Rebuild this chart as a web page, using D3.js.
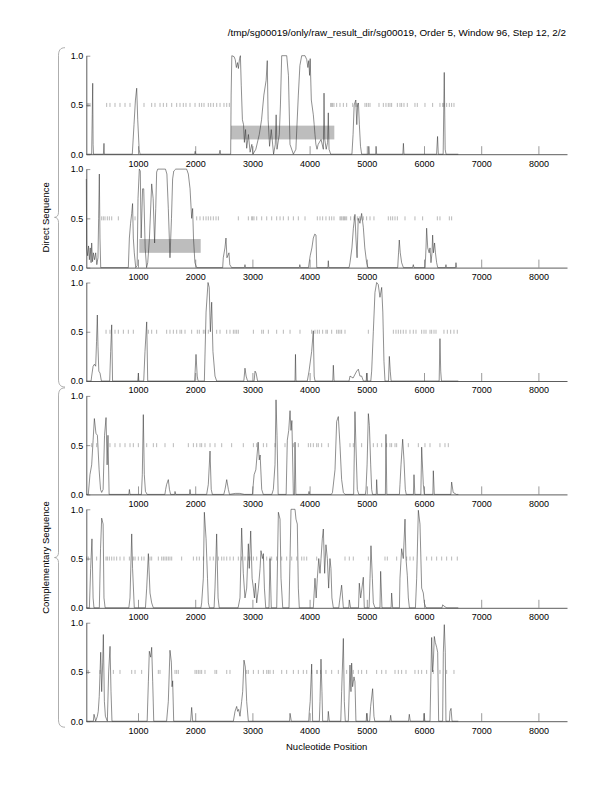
<!DOCTYPE html>
<html>
<head>
<meta charset="utf-8">
<script src="https://cdn.jsdelivr.net/npm/d3@7"></script>
<style>
  body { margin: 0; background: #fff; }
  text { font-family: "Liberation Sans", Arial, Helvetica, sans-serif; fill: #000; }
</style>
</head>
<body>
<div class="chart"></div>
<script>
var svgWidth = 612;
var svgHeight = 792;

// x range of every panel
var xStart = 96;
var xEnd = 8500;
var xTicks = [1000, 2000, 3000, 4000, 5000, 6000, 7000, 8000];
var yTicks = [0, 0.5, 1.0];

var titleText = "/tmp/sg00019/only/raw_result_dir/sg00019, Order 5, Window 96, Step 12, 2/2";
var groupLabels = ["Direct Sequence", "Complementary Sequence"];
var xLabel = "Nucleotide Position";

// traces, [position, value]
var trace1 = [[96,0],[190,0],[200,0.4],[208,0.72],[215,0.1],[222,0],[395,0],[405,0.11],[412,0],[900,0],[930,0.3],[955,0.55],[977,0.67],[995,0.35],[1020,0.05],[1035,0],[1990,0],[2000,0.03],[2010,0],[2420,0],[2434,0.04],[2445,0],[2620,0],[2628,0.6],[2640,1.0],[2680,0.99],[2700,0.96],[2720,0.88],[2740,0.93],[2755,0.87],[2775,0.97],[2790,1.0],[2805,0.7],[2825,0.35],[2845,0.3],[2860,0.12],[2880,0.25],[2900,0.06],[2930,0.2],[2960,0.02],[2990,0.1],[3010,0.0],[3060,0.05],[3120,0.2],[3160,0.35],[3200,0.6],[3240,0.75],[3260,0.95],[3275,0.35],[3300,0.08],[3330,0.25],[3370,0],[3400,0.1],[3415,0.4],[3430,0.05],[3470,0.2],[3490,0.5],[3512,1.0],[3600,1.0],[3630,0.8],[3657,0.1],[3716,0],[3760,0.05],[3803,0.6],[3830,0.9],[3862,1.0],[3920,1.0],[3950,0.96],[3970,0.88],[3985,0.95],[4000,0.8],[4010,0.97],[4030,0.55],[4065,0.4],[4080,0.3],[4094,0.2],[4110,0.1],[4130,0.05],[4150,0.1],[4200,0.15],[4240,0.05],[4252,0.62],[4265,0.15],[4290,0.05],[4315,0.12],[4327,0.42],[4340,0.05],[4369,0],[4740,0],[4760,0.2],[4779,0.5],[4808,0.55],[4825,0.3],[4840,0.5],[4854,0.52],[4870,0.3],[4890,0.08],[4910,0],[5030,0],[5035,0.08],[5045,0],[5155,0],[5162,0.08],[5172,0],[5630,0],[5640,0.11],[5650,0],[6220,0],[6237,0.18],[6250,0],[6335,0],[6354,0.83],[6370,0.05],[6385,0],[6600,0]];
var trace2 = [[96,0.9],[103,0.2],[120,0.12],[135,0.22],[150,0.08],[165,0.2],[180,0.05],[190,0.25],[205,0.06],[220,0.15],[240,0.08],[260,0.15],[280,0.03],[300,0.1],[312,0.5],[324,0.95],[335,0.3],[348,0],[831,0],[849,0.3],[870,0.45],[890,0.55],[905,0.65],[918,0.3],[935,0.15],[960,0.0],[985,0.02],[1000,0.7],[1023,1.0],[1040,0.98],[1055,0.3],[1080,0.8],[1100,0.8],[1125,0.2],[1150,0.0],[1170,0.05],[1200,0.3],[1239,0.85],[1265,0.7],[1290,0.25],[1310,0.6],[1326,0.97],[1345,1.0],[1480,1.0],[1505,0.95],[1530,0.6],[1559,0.1],[1585,0.5],[1605,0.9],[1625,0.98],[1660,1.0],[1850,1.0],[1880,0.95],[1910,0.8],[1938,0.5],[1955,0.6],[1970,0.3],[1995,0.05],[2026,0],[2480,0],[2491,0.1],[2520,0.2],[2538,0.3],[2555,0.1],[2590,0.15],[2605,0.03],[2637,0],[2860,0],[2870,0.03],[2880,0],[3820,0],[3829,0.03],[3840,0],[3980,0],[4010,0.12],[4040,0.2],[4065,0.3],[4090,0.34],[4112,0.33],[4125,0.0],[4320,0],[4327,0.07],[4335,0],[4690,0],[4706,0.05],[4740,0.2],[4765,0.4],[4793,0.54],[4810,0.3],[4830,0.1],[4850,0.5],[4880,0.45],[4910,0.55],[4939,0.41],[4965,0.2],[4997,0.05],[5020,0],[5540,0],[5555,0.15],[5568,0.28],[5585,0.15],[5609,0.05],[5640,0],[5800,0],[5813,0.03],[5825,0],[6020,0],[6035,0.2],[6046,0.4],[6065,0.2],[6090,0.15],[6105,0.2],[6122,0.05],[6140,0.15],[6151,0.33],[6165,0.15],[6185,0.25],[6200,0.15],[6221,0.05],[6240,0],[6375,0],[6384,0.03],[6392,0],[6550,0],[6559,0.05],[6570,0]];
var trace3 = [[96,0],[180,0],[190,0.05],[215,0.15],[237,0.17],[260,0.15],[275,0.4],[289,0.67],[300,0.35],[315,0.1],[336,0.08],[360,0],[505,0],[522,0.3],[540,0.57],[555,0],[995,0],[1006,0.08],[1015,0],[1100,0],[1122,0.3],[1152,0.6],[1170,0.0],[1990,0],[2014,0.27],[2035,0.05],[2050,0],[2160,0],[2190,0.7],[2224,1.0],[2245,0.95],[2265,0.5],[2288,0.8],[2310,0.3],[2346,0.05],[2375,0],[2850,0],[2870,0.13],[2890,0.05],[2915,0],[3030,0],[3046,0.1],[3065,0.08],[3090,0],[3745,0],[3753,0.27],[3762,0],[3960,0],[3990,0.1],[4036,0.3],[4065,0.51],[4080,0.05],[4095,0],[4405,0],[4415,0.16],[4428,0],[4690,0],[4706,0.05],[4760,0.03],[4823,0.1],[4852,0.12],[4880,0.05],[4910,0.05],[4940,0],[4990,0],[4997,0.08],[5005,0],[5070,0],[5085,0.1],[5114,0.5],[5143,0.9],[5172,1.0],[5200,0.98],[5230,0.85],[5260,0.95],[5280,0.7],[5300,0.2],[5318,0],[5380,0],[5394,0.25],[5410,0.1],[5425,0],[6265,0],[6279,0.43],[6292,0.1],[6305,0],[6600,0]];
var trace4 = [[96,0],[131,0],[160,0.2],[190,0.3],[215,0.55],[237,0.77],[265,0.62],[290,0.6],[320,0.25],[345,0.05],[365,0.02],[390,0.05],[415,0.6],[441,0.78],[460,0.3],[475,0.6],[495,0],[840,0],[849,0.05],[860,0],[1060,0],[1075,0.2],[1093,0.81],[1110,0.2],[1130,0.03],[1160,0],[1470,0],[1483,0.05],[1500,0.1],[1530,0.15],[1550,0.05],[1570,0],[1640,0],[1647,0.03],[1660,0],[1900,0],[1909,0.05],[1920,0],[2200,0],[2229,0.1],[2259,0.44],[2280,0.05],[2300,0],[2500,0],[2521,0.05],[2551,0.15],[2580,0.05],[2600,0],[2700,0.01],[2780,0.01],[2860,0],[3000,0],[3030,0.2],[3060,0.25],[3100,0.53],[3120,0.35],[3135,0.4],[3163,0.05],[3190,0],[3340,0],[3366,0.05],[3395,0.3],[3413,0.96],[3430,0.6],[3450,0],[3590,0],[3610,0.55],[3635,0.65],[3658,0.85],[3675,0.65],[3690,0.75],[3716,0],[3735,0.0],[3745,0.53],[3760,0],[3980,0],[3990,0.03],[4000,0],[4380,0],[4400,0.02],[4444,0.25],[4473,0.74],[4502,0.79],[4531,0.5],[4560,0.15],[4590,0.02],[4620,0],[4770,0],[4793,0.84],[4810,0.5],[4834,0.05],[4860,0],[4975,0],[4986,0.05],[5005,0.3],[5027,0.82],[5045,0.7],[5068,0.3],[5085,0.05],[5100,0],[5165,0],[5172,0.15],[5185,0],[5325,0],[5335,0.61],[5350,0],[5570,0],[5580,0.1],[5598,0.3],[5627,0.56],[5650,0.35],[5673,0.05],[5690,0],[5815,0],[5825,0.2],[5840,0],[5945,0],[5959,0.48],[5988,0.1],[6005,0],[6155,0],[6163,0.24],[6180,0],[6470,0],[6483,0.125],[6510,0.02],[6565,0],[6600,0]];
var trace5 = [[96,0],[150,0],[172,0.4],[195,0.7],[215,0.1],[230,0],[324,0],[345,0.6],[365,0.91],[390,0.85],[405,0.1],[425,0],[840,0],[860,0.1],[890,0.75],[905,0.4],[935,0],[1130,0],[1152,0.2],[1181,0.55],[1210,0.15],[1239,0.05],[1268,0],[2100,0],[2113,0.05],[2142,0.3],[2160,0.97],[2190,0.7],[2215,0.3],[2230,0.05],[2250,0],[2330,0],[2346,0.2],[2375,0.75],[2400,0.1],[2420,0],[2750,0],[2783,0.1],[2812,0.81],[2841,0.35],[2870,0.1],[2900,0.2],[2929,0.65],[2945,0.4],[2970,0.78],[2995,0.3],[3017,0.2],[3035,0.1],[3052,0.25],[3075,0.05],[3105,0.2],[3134,0.4],[3150,0.58],[3175,0.5],[3192,0.55],[3210,0.2],[3233,0],[3290,0],[3308,0.5],[3330,0],[3425,0],[3454,0.97],[3483,0.9],[3500,0.3],[3530,0],[3640,0],[3658,0.5],[3675,1.0],[3745,1.0],[3762,0.9],[3785,0.85],[3803,0.2],[3820,0],[4065,0],[4094,0.3],[4115,0.1],[4135,0.3],[4160,0.5],[4182,0.35],[4200,0.5],[4222,0.7],[4240,0.8],[4263,0.35],[4286,0.64],[4310,0.5],[4333,0.2],[4356,0.5],[4373,0.4],[4390,0.1],[4415,0],[4510,0],[4520,0.05],[4560,0.23],[4590,0],[4685,0],[4694,0.08],[4716,0],[4855,0],[4869,0.25],[4893,0.1],[4939,0.31],[4956,0],[5040,0],[5056,0.3],[5073,0.63],[5097,0.3],[5114,0.05],[5143,0],[5230,0],[5242,0.37],[5265,0],[5425,0],[5434,0.15],[5452,0],[5570,0],[5580,0.3],[5609,0.6],[5638,0.5],[5668,0.9],[5685,0.5],[5708,0.33],[5726,0.1],[5745,0],[5850,0],[5872,0.3],[5901,0.99],[5930,0.85],[5959,0.2],[5988,0.15],[6005,0.05],[6035,0],[6315,0],[6326,0.03],[6367,0.01],[6400,0],[6600,0]];
var trace6 = [[96,0],[219,0],[231,0.07],[260,0],[289,0.05],[305,0.1],[322,0.25],[348,0.7],[365,0.3],[383,0.6],[394,0.88],[412,0.2],[430,0.05],[464,0],[487,0.5],[511,0.76],[528,0.3],[545,0],[1160,0],[1181,0.4],[1198,0.71],[1222,0.65],[1239,0.75],[1257,0.4],[1275,0],[1500,0],[1530,0.2],[1559,0.72],[1583,0.6],[1595,0.35],[1606,0.41],[1624,0],[1920,0],[1938,0.14],[1956,0],[2667,0],[2696,0.1],[2725,0.15],[2742,0.1],[2760,0.12],[2783,0.05],[2812,0.2],[2830,0.3],[2853,0.62],[2876,0.55],[2900,0.2],[2929,0],[3650,0],[3658,0.08],[3680,0],[3985,0],[3995,0.1],[4010,0.2],[4036,0.58],[4053,0],[4170,0],[4182,0.2],[4199,0.63],[4216,0.3],[4228,0],[4318,0],[4327,0.1],[4345,0],[4545,0],[4560,0.3],[4590,0.84],[4607,0.2],[4624,0],[4677,0],[4706,0.57],[4723,0.3],[4735,0.59],[4752,0.35],[4776,0.45],[4793,0.4],[4810,0],[4990,0],[4997,0.08],[5010,0],[5050,0],[5067,0.15],[5102,0.33],[5125,0.05],[5140,0],[5405,0],[5417,0.06],[5430,0],[5730,0],[5743,0.07],[5760,0],[5990,0],[6000,0.08],[6015,0],[6105,0],[6134,0.85],[6151,0.5],[6163,0.6],[6180,0.86],[6198,0.8],[6221,0.75],[6239,0.7],[6256,0],[6326,0],[6338,0.7],[6355,0.98],[6372,0.7],[6384,0],[6445,0],[6454,0.1],[6472,0.13],[6490,0],[6600,0]];

// stop marks drawn at 0.5
var stops1 = [114,138,161,452,510,598,685,773,860,1105,1239,1297,1385,1443,1501,1589,1676,1734,1792,1839,1909,1997,2072,2113,2154,2229,2271,2317,2376,2434,2503,2551,2597,4368,4386,4403,4426,4473,4531,4590,4648,4753,4811,4834,4968,4997,5027,5056,5213,5289,5335,5376,5405,5434,5534,5580,5609,5650,5708,5842,5883,6017,6151,6279,6326,6349,6396,6443,6483,6524];
var stops2 = [365,394,423,464,499,540,656,948,2026,2084,2142,2189,2229,2271,2317,2364,2405,2754,2929,2987,3005,3028,3075,3162,3250,3337,3424,3483,3541,3628,3716,3803,3920,4135,4182,4228,4286,4345,4386,4426,4531,4549,4566,4590,4607,4624,4648,4718,4776,4834,4869,4898,4939,4997,5056,5125,5376,5417,5452,5493,5534,5668,5842,5976,6233,6279,6443,6483];
var stops3 = [441,510,598,656,744,831,918,1181,1239,1326,1501,1559,1618,1676,1734,1763,1822,1938,2037,2072,2142,2171,2229,2375,2434,2550,2608,2667,2696,2725,2754,3017,3163,3192,3279,3424,3541,3658,3832,4036,4094,4135,4170,4228,4286,4310,4386,4473,4502,4531,4560,4619,5027,5464,5510,5551,5592,5638,5685,5755,5813,5860,5959,6000,6035,6105,6134,6175,6210,6349,6408,6466,6524,6582];
var stops4 = [190,277,510,598,685,773,860,918,1006,1152,1268,1326,1472,1618,1880,1968,2026,2084,2113,2171,2259,2346,2463,2637,2841,3017,3075,3192,3250,3395,3570,3716,3803,3978,4018,4065,4124,4152,4211,4327,4706,4764,4910,5114,5184,5260,5347,5405,5434,5493,5522,5726,5901,6017,6105,6279,6367,6425];
var stops5 = [102,131,277,441,464,499,540,581,627,685,755,849,918,948,1006,1064,1105,1210,1239,1355,1414,1443,1472,1501,1530,1559,1589,1763,1968,2026,2072,2142,2259,2317,2405,2463,2503,2551,2608,2667,2754,2812,2870,2929,2958,3017,3075,3192,3250,3308,3337,3424,3512,3599,3687,3775,3862,3903,3949,4124,4619,4694,4764,5027,5318,5359,5522,5697,5755,5813,6046,6134,6221,6309,6396,6483,6582];
var stops6 = [102,131,336,569,685,890,948,1064,1355,1385,1647,1676,1705,1997,2026,2055,2084,2113,2171,2346,2375,2551,2608,2900,2929,3017,3104,3192,3250,3279,3308,3366,3512,3599,3716,3803,3890,3949,4036,4124,4135,4193,4286,4386,4502,4648,4764,4852,4910,4997,5172,5260,5335,5493,5551,5609,5685,5842,5901,5959,6046,6163,6279,6396,6524];

// gene boxes: panel index, start, end
var genePanel = [0, 1];
var geneStart = [2626, 1023];
var geneEnd = [4432, 2096];
var geneLow = 0.15;
var geneHigh = 0.29;

var traces = [trace1, trace2, trace3, trace4, trace5, trace6];
var stops = [stops1, stops2, stops3, stops4, stops5, stops6];

// layout
var plotLeft = 86.3;
var plotRight = 567;
var panelTop0 = 55.7;
var panelStep = 113.4;
var panelHeight = 98.5;

var svg = d3.select(".chart")
  .append("svg")
  .attr("width", svgWidth)
  .attr("height", svgHeight);

var x = d3.scaleLinear()
  .domain([xStart, xEnd])
  .range([plotLeft, plotRight]);

svg.append("text")
  .attr("x", 566)
  .attr("y", 36)
  .attr("text-anchor", "end")
  .attr("font-size", "9.9px")
  .text(titleText);

traces.forEach(function(trace, i) {
  var top = panelTop0 + i * panelStep;
  var y = d3.scaleLinear()
    .domain([0, 1])
    .range([top + panelHeight, top]);
  var g = svg.append("g");

  // gene box
  genePanel.forEach(function(p, k) {
    if (p !== i) return;
    g.append("rect")
      .attr("x", x(geneStart[k]))
      .attr("y", y(geneHigh))
      .attr("width", x(geneEnd[k]) - x(geneStart[k]))
      .attr("height", y(geneLow) - y(geneHigh))
      .attr("fill", "#bdbdbd");
  });

  // stop marks
  g.selectAll(".stop")
    .data(stops[i])
    .enter()
    .append("line")
    .attr("class", "stop")
    .attr("x1", d => x(d))
    .attr("x2", d => x(d))
    .attr("y1", y(0.5) - 2)
    .attr("y2", y(0.5) + 2)
    .attr("stroke", "#8a8a8a")
    .attr("stroke-width", 0.6);

  // trace
  var line = d3.line()
    .x(d => x(d[0]))
    .y(d => y(d[1]));
  g.append("path")
    .datum(trace)
    .attr("d", line)
    .attr("fill", "none")
    .attr("stroke", "#333")
    .attr("stroke-width", 0.55);

  // axes
  var bottomAxis = d3.axisBottom(x)
    .tickValues(xTicks)
    .tickFormat(d3.format("d"))
    .tickSizeInner(-8)
    .tickSizeOuter(0)
    .tickPadding(6);
  var xAxis = g.append("g")
    .attr("transform", `translate(0, ${top + panelHeight})`)
    .call(bottomAxis);

  var leftAxis = d3.axisLeft(y)
    .tickValues(yTicks)
    .tickFormat(d3.format(".1f"))
    .tickSizeInner(-4)
    .tickSizeOuter(0)
    .tickPadding(3);
  var yAxis = g.append("g")
    .attr("transform", `translate(${plotLeft}, 0)`)
    .call(leftAxis);

  [xAxis, yAxis].forEach(function(a) {
    a.select(".domain").attr("stroke", "#333").attr("stroke-width", 0.8);
    a.selectAll(".tick line").attr("stroke", "#555").attr("stroke-width", 0.6);
    a.selectAll("text")
      .attr("font-size", "9px")
      .attr("font-family", "'Liberation Sans', Arial, sans-serif")
      .attr("fill", "#000");
  });
});

// braces for the two strand groups
function bracePath(top, bot) {
  var sx = 58.5, tip = 54.5, end = 65;
  var mid = (top + bot) / 2;
  return `M${end},${top} C${sx + 1.5},${top} ${sx},${top + 3} ${sx},${top + 8}` +
    ` L${sx},${mid - 5} C${sx},${mid - 2} ${sx - 1.5},${mid} ${tip},${mid}` +
    ` C${sx - 1.5},${mid} ${sx},${mid + 2} ${sx},${mid + 5}` +
    ` L${sx},${bot - 8} C${sx},${bot - 3} ${sx + 1.5},${bot} ${end},${bot}`;
}

groupLabels.forEach(function(label, k) {
  var top = panelTop0 + k * 3 * panelStep - 8;
  var bot = panelTop0 + (k * 3 + 2) * panelStep + panelHeight + 6;
  svg.append("path")
    .attr("d", bracePath(top, bot))
    .attr("fill", "none")
    .attr("stroke", "#999")
    .attr("stroke-width", 0.8);
  svg.append("text")
    .attr("transform", `translate(49, ${(top + bot) / 2}) rotate(-90)`)
    .attr("text-anchor", "middle")
    .attr("font-size", "9.5px")
    .text(label);
});

svg.append("text")
  .attr("x", (plotLeft + plotRight) / 2)
  .attr("y", panelTop0 + 5 * panelStep + panelHeight + 29)
  .attr("text-anchor", "middle")
  .attr("font-size", "9.5px")
  .text(xLabel);
</script>
</body>
</html>
